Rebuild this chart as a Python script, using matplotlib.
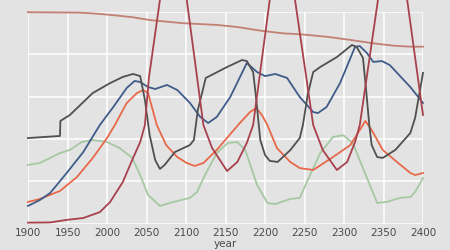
import matplotlib
matplotlib.use("Agg")
import matplotlib.pyplot as plt

# series (year, normalised value)
gray_year = [1900, 1940.5, 1941, 1953, 1982, 2004, 2020, 2033, 2042, 2048, 2054, 2061, 2067, 2073,
             2086, 2105, 2110, 2115, 2125, 2152, 2171, 2177, 2185, 2189, 2194, 2200, 2206, 2216,
             2232, 2244, 2248, 2254, 2261, 2270, 2291, 2310, 2316, 2324, 2328, 2332, 2335, 2342,
             2349, 2365, 2384, 2390, 2400]
gray_val = [0.404, 0.414, 0.485, 0.513, 0.617, 0.664, 0.693, 0.707, 0.697, 0.584, 0.418, 0.300, 0.258,
            0.277, 0.338, 0.371, 0.395, 0.537, 0.688, 0.740, 0.773, 0.768, 0.716, 0.584, 0.395, 0.324,
            0.296, 0.291, 0.347, 0.404, 0.466, 0.608, 0.716, 0.740, 0.787, 0.844, 0.835, 0.783, 0.631,
            0.466, 0.371, 0.314, 0.310, 0.348, 0.428, 0.499, 0.712]

blue_year = [1900, 1915, 1928, 1949, 1970, 1991, 2008, 2025, 2035, 2042, 2052, 2061, 2076, 2089, 2105,
             2118, 2128, 2139, 2156, 2177, 2190, 2200, 2213, 2228, 2244, 2261, 2267, 2278, 2295, 2314,
             2320, 2329, 2337, 2348, 2358, 2384, 2400]
blue_val = [0.083, 0.111, 0.144, 0.239, 0.338, 0.466, 0.551, 0.641, 0.674, 0.669, 0.645, 0.636, 0.655,
            0.631, 0.570, 0.504, 0.475, 0.504, 0.598, 0.759, 0.716, 0.697, 0.707, 0.688, 0.598, 0.527,
            0.522, 0.551, 0.664, 0.835, 0.839, 0.806, 0.764, 0.768, 0.749, 0.645, 0.570]

orange_year = [1900, 1915, 1940.5, 1962, 1982, 2000, 2010, 2025, 2038, 2046, 2052, 2063, 2075, 2089,
               2101, 2111, 2122, 2139, 2166, 2181, 2189, 2196, 2203, 2215, 2232, 2244, 2261, 2286,
               2308, 2320, 2327, 2335, 2349, 2367, 2384, 2390, 2400]
orange_val = [0.102, 0.116, 0.154, 0.220, 0.310, 0.404, 0.466, 0.570, 0.617, 0.631, 0.617, 0.466, 0.370,
              0.314, 0.286, 0.272, 0.286, 0.348, 0.466, 0.527, 0.546, 0.513, 0.466, 0.357, 0.291,
              0.262, 0.253, 0.314, 0.371, 0.442, 0.485, 0.442, 0.348, 0.291, 0.239, 0.229, 0.239]

green_year = [1900, 1915, 1940.5, 1953, 1968, 1982, 2000, 2016, 2032, 2042, 2052, 2067, 2084, 2105,
              2114, 2124, 2139, 2153, 2165, 2175, 2190, 2203, 2213, 2232, 2244, 2257, 2270, 2286,
              2299, 2311, 2324, 2342, 2354, 2371, 2384, 2390, 2400]
green_val = [0.277, 0.286, 0.333, 0.348, 0.385, 0.395, 0.385, 0.357, 0.310, 0.229, 0.135, 0.083, 0.102,
             0.121, 0.149, 0.229, 0.333, 0.381, 0.385, 0.348, 0.182, 0.097, 0.092, 0.116, 0.121,
             0.229, 0.333, 0.409, 0.418, 0.381, 0.262, 0.097, 0.102, 0.121, 0.125, 0.149, 0.215]

red_year = [1900, 1928, 1949, 1970, 1991, 2004, 2020, 2033, 2042, 2048, 2053, 2067, 2084, 2101, 2122,
            2133, 2152, 2165, 2177, 2185, 2206, 2222, 2238, 2261, 2273, 2291, 2304, 2314, 2320, 2343,
            2361, 2380, 2400]
red_val = [0.004, 0.005, 0.017, 0.026, 0.054, 0.102, 0.196, 0.310, 0.385, 0.466, 0.688, 1.057, 1.29,
           1.057, 0.466, 0.357, 0.248, 0.291, 0.381, 0.466, 1.057, 1.29, 1.057, 0.466, 0.348, 0.253,
           0.291, 0.385, 0.466, 1.057, 1.29, 1.057, 0.513]

top_year = [1900, 1966, 1991, 2013, 2033, 2054, 2096, 2139, 2165, 2194, 2223, 2244, 2278, 2308, 2337,
            2362, 2384, 2400]
top_val = [0.999, 0.997, 0.991, 0.983, 0.975, 0.962, 0.947, 0.939, 0.929, 0.912, 0.899, 0.895, 0.883,
           0.868, 0.852, 0.841, 0.836, 0.836]

x_ticks = list(range(1900, 2401, 50))
y_ticks = [0, 0.2, 0.4, 0.6, 0.8, 1.0]

bg = "#e3e3e3"
fig = plt.figure(figsize=(4.5, 2.5), dpi=100, facecolor=bg)
ax = fig.add_axes([28 / 450, 1 - 223.5 / 250, 395 / 450, 211.5 / 250])
ax.set_facecolor(bg)

for s in ax.spines.values():
    s.set_visible(False)
ax.set_xlim(1900, 2400)
ax.set_ylim(0, 1)
ax.set_xticks(x_ticks)
ax.set_yticks(y_ticks)
ax.set_yticklabels([])
ax.grid(True, color="white", linewidth=1.1)
ax.set_axisbelow(True)
ax.tick_params(length=0, pad=3, labelsize=7.5, labelcolor="#4a4a4a")

lw = 1.3
ax.plot(top_year, top_val, color="#c08072", lw=lw, clip_on=False)
ax.plot(green_year, green_val, color="#a6c8a2", lw=lw, clip_on=False)
ax.plot(orange_year, orange_val, color="#e8694a", lw=lw, clip_on=False)
ax.plot(blue_year, blue_val, color="#3f5c88", lw=lw, clip_on=False)
ax.plot(gray_year, gray_val, color="#505050", lw=lw, clip_on=False)
ax.plot(red_year, red_val, color="#a8414d", lw=lw, clip_on=False)

ax.set_xlabel("year", fontsize=7.5, color="#4a4a4a", labelpad=1)

fig.savefig("out.png", dpi=100, facecolor=bg)
